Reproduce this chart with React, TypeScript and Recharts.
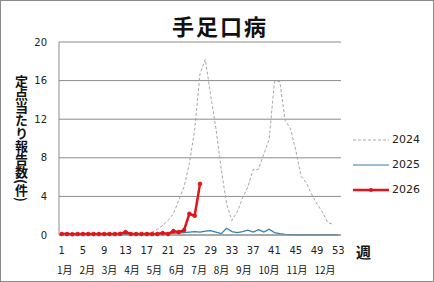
import React from "react";
import { LineChart, Line, XAxis, YAxis, CartesianGrid, Legend } from "recharts";

const weeks = Array.from({ length: 53 }, (_, i) => String(i + 1));

const y2024 = [
  0.2, 0.2, 0.15, 0.15, 0.1, 0.1, 0.1, 0.1, 0.1, 0.1, 0.1, 0.1, 0.1, 0.1, 0.1, 0.15, 0.2,
  0.3, 0.6, 1.0, 1.5, 2.2, 3.6, 5.0, 7.4, 10.9, 16.7, 18.2, 14.5, 11.0, 6.8, 3.2, 1.5,
  2.4, 3.8, 5.0, 6.8, 6.8, 8.4, 9.9, 15.9, 15.9, 11.9, 11.0, 8.8, 6.1, 5.4, 4.2, 3.2,
  2.4, 1.3, 1.1, null,
];

const y2025 = [
  0.1, 0.1, 0.1, 0.1, 0.1, 0.1, 0.1, 0.1, 0.1, 0.1, 0.1, 0.1, 0.1, 0.1, 0.1, 0.1, 0.1,
  0.1, 0.1, 0.1, 0.15, 0.2, 0.2, 0.25, 0.3, 0.35, 0.3, 0.4, 0.45, 0.3, 0.15, 0.7, 0.35,
  0.25, 0.35, 0.5, 0.3, 0.55, 0.3, 0.6, 0.25, 0.15, 0.08, 0.03, 0.02, 0.02, 0.02, 0.02, 0.02,
  0.02, 0.02, 0.02, 0.02,
];

const y2026 = [
  0.1, 0.1, 0.08, 0.1, 0.1, 0.1, 0.1, 0.1, 0.1, 0.1, 0.1, 0.12, 0.3, 0.1, 0.1, 0.1, 0.1,
  0.1, 0.1, 0.2, 0.1, 0.4, 0.3, 0.5, 2.2, 2.0, 5.3,
];

const months = ["1月", "2月", "3月", "4月", "5月", "6月", "7月", "8月", "9月", "10月", "11月", "12月"];
const yTicks = [0, 4, 8, 12, 16, 20];

const data = weeks.map((w, i) => ({
  week: w,
  "2024": y2024[i] ?? null,
  "2025": y2025[i] ?? null,
  "2026": i < y2026.length ? y2026[i] : null,
}));

const font = "'Noto Sans CJK JP', 'DejaVu Sans', sans-serif";

function LegendBox({ payload }: any) {
  return (
    <div style={{ fontFamily: "'DejaVu Sans', sans-serif", fontSize: 11, color: "#222" }}>
      {(payload || []).map((p: any) => (
        <div key={p.value} style={{ display: "flex", alignItems: "center", height: 25 }}>
          <svg width={36} height={10} style={{ marginRight: 3 }}>
            <line
              x1={0}
              y1={5}
              x2={36}
              y2={5}
              stroke={p.color}
              strokeWidth={p.payload.strokeWidth}
              strokeDasharray={p.payload.strokeDasharray}
            />
            {p.value === "2026" && <circle cx={18} cy={5} r={2} fill={p.color} />}
          </svg>
          <span>{p.value}</span>
        </div>
      ))}
    </div>
  );
}

export default function App() {
  return (
    <div
      style={{
        position: "absolute",
        left: 0,
        top: 0,
        width: 434,
        height: 282,
        boxSizing: "border-box",
        border: "1px solid #8a8a8a",
        background: "#fff",
        fontFamily: font,
      }}
    >
      <LineChart
        width={432}
        height={280}
        data={data}
        margin={{ top: 41, right: 92, bottom: 0, left: 8 }}
        style={{ position: "absolute", left: 0, top: 0 }}
      >
        <CartesianGrid vertical={false} stroke="#8c8c8c" />
        <XAxis
          dataKey="week"
          interval={3}
          tickLine={false}
          axisLine={{ stroke: "#8c8c8c" }}
          tickMargin={6}
          height={46}
          padding={{ left: 2.7, right: 2.7 }}
          tick={{ fontSize: 10, fill: "#222", fontFamily: "'DejaVu Sans', sans-serif" }}
        />
        <YAxis
          domain={[0, 20]}
          ticks={yTicks}
          width={50}
          tickLine={false}
          axisLine={{ stroke: "#8c8c8c" }}
          tickMargin={6}
          tick={{ fontSize: 10, fill: "#222", fontFamily: "'DejaVu Sans', sans-serif" }}
        />
        <Legend
          layout="horizontal"
          verticalAlign="middle"
          align="center"
          content={<LegendBox />}
          wrapperStyle={{ left: 352, top: 126, width: 80, height: 80 }}
        />
        <Line
          dataKey="2024"
          stroke="#a6a6a6"
          strokeWidth={1}
          strokeDasharray="3 2"
          dot={false}
          isAnimationActive={false}
        />
        <Line
          dataKey="2025"
          stroke="#2f80ad"
          strokeWidth={1.2}
          dot={false}
          isAnimationActive={false}
        />
        <Line
          dataKey="2026"
          stroke="#e0141b"
          strokeWidth={2.5}
          dot={{ r: 1.8, fill: "#e0141b", stroke: "#e0141b", strokeWidth: 1 }}
          isAnimationActive={false}
        />
      </LineChart>

      <div
        style={{
          position: "absolute",
          left: 0,
          width: 434,
          top: 10,
          textAlign: "center",
          fontSize: 22,
          fontWeight: "bold",
          letterSpacing: 2,
          lineHeight: "28px",
          color: "#111",
          paddingLeft: 2,
        }}
      >
        手足口病
      </div>

      <div
        style={{
          position: "absolute",
          left: 13,
          top: 74,
          writingMode: "vertical-rl",
          fontSize: 13,
          fontWeight: "bold",
          lineHeight: "14px",
          color: "#111",
        }}
      >
        定点当たり報告数(件)
      </div>

      <div
        style={{
          position: "absolute",
          left: 355,
          top: 241,
          fontSize: 15,
          fontWeight: "bold",
          lineHeight: "20px",
          color: "#111",
        }}
      >
        週
      </div>

      <div
        style={{
          position: "absolute",
          left: 56,
          top: 262,
          fontSize: 10,
          lineHeight: "14px",
          wordSpacing: 4.6,
          whiteSpace: "nowrap",
          color: "#111",
        }}
      >
        {months.join(" ")}
      </div>
    </div>
  );
}
